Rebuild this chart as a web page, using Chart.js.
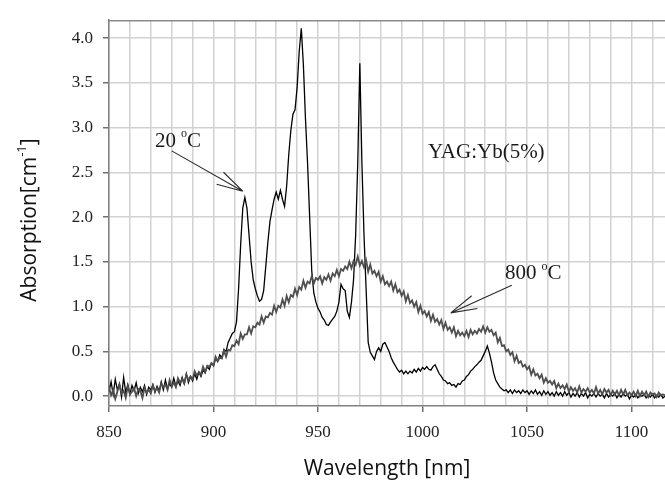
<!DOCTYPE html>
<html>
<head>
<meta charset="utf-8">
<title>YAG:Yb absorption</title>
<script src="https://cdn.jsdelivr.net/npm/chart.js@4.4.1/dist/chart.umd.min.js"></script>
<style>
  html, body { margin: 0; padding: 0; background: #fff; }
  #wrap { width: 665px; height: 480px; }
</style>
</head>
<body>
<div id="wrap"><canvas id="absChart" width="665" height="480"></canvas></div>
<script>
// spectra sampled every 1 nm starting at 850 nm
const waveStart = 850;
const waveStep = 1;

// absorption at 20 °C (black)
const abs20C = [
  0.05, 0.16, 0.02, 0.19, 0.07, 0.14, -0.01, 0.21, 0.04, 0.13,
  0.02, 0.12, 0.06, 0.15, 0.03, 0.10, 0.05, 0.12, 0.02, 0.10,
  0.07, 0.13, 0.04, 0.11, 0.06, 0.16, 0.07, 0.18, 0.08, 0.14,
  0.10, 0.20, 0.11, 0.17, 0.12, 0.21, 0.14, 0.25, 0.15, 0.22,
  0.17, 0.25, 0.19, 0.27, 0.22, 0.29, 0.26, 0.33, 0.30, 0.37,
  0.34, 0.42, 0.39, 0.46, 0.43, 0.52, 0.50, 0.60, 0.65, 0.70,
  0.72, 0.83, 1.20, 1.70, 2.10, 2.22, 2.10, 1.80, 1.50, 1.30,
  1.20, 1.12, 1.06, 1.08, 1.18, 1.45, 1.72, 1.95, 2.08, 2.20,
  2.28, 2.20, 2.30, 2.20, 2.12, 2.35, 2.70, 2.97, 3.15, 3.20,
  3.45, 3.85, 4.11, 3.70, 3.10, 2.60, 2.00, 1.40, 1.15, 1.05,
  0.98, 0.94, 0.88, 0.85, 0.80, 0.79, 0.83, 0.86, 0.89, 0.95,
  1.05, 1.25, 1.20, 1.18, 0.95, 0.88, 1.05, 1.30, 1.80, 2.60,
  3.72, 2.60, 1.80, 1.20, 0.60, 0.49, 0.45, 0.41, 0.50, 0.54,
  0.50, 0.58, 0.60, 0.55, 0.50, 0.43, 0.38, 0.34, 0.30, 0.27,
  0.29, 0.25, 0.28, 0.25, 0.28, 0.26, 0.30, 0.27, 0.31, 0.28,
  0.32, 0.30, 0.33, 0.30, 0.29, 0.33, 0.35, 0.30, 0.25, 0.22,
  0.18, 0.17, 0.14, 0.15, 0.12, 0.13, 0.10, 0.14, 0.13, 0.17,
  0.18, 0.22, 0.24, 0.28, 0.30, 0.33, 0.35, 0.38, 0.40, 0.45,
  0.50, 0.56, 0.48, 0.38, 0.26, 0.18, 0.14, 0.10, 0.08, 0.06,
  0.07, 0.04, 0.07, 0.03, 0.07, 0.04, 0.06, 0.03, 0.07, 0.04,
  0.06, 0.02, 0.06, 0.03, 0.07, 0.02, 0.05, 0.01, 0.06, 0.02,
  0.05, 0.01, 0.04, 0.00, 0.05, 0.01, 0.04, 0.00, 0.05, 0.01,
  0.04, -0.01, 0.03, 0.00, 0.04, -0.01, 0.03, 0.00, 0.04, -0.02,
  0.02, 0.00, 0.03, -0.01, 0.03, 0.00, 0.02, -0.02, 0.03, -0.01,
  0.02, 0.00, 0.03, -0.02, 0.02, -0.01, 0.03, 0.00, 0.02, -0.03,
  0.01, -0.01, 0.02, -0.02, 0.01, 0.00, 0.02, -0.02, 0.01, -0.01,
  0.02, -0.02, 0.01, -0.01, 0.02, -0.02, 0.00
];

// absorption at 800 °C (grey)
const abs800C = [
  0.10, 0.01, 0.07, -0.03, 0.05, 0.13, 0.03, 0.06, -0.02, 0.11,
  0.02, 0.05, 0.09, 0.00, 0.08, 0.06, -0.02, 0.09, 0.04, 0.07,
  0.03, 0.12, 0.06, 0.09, 0.04, 0.14, 0.10, 0.13, 0.07, 0.18,
  0.11, 0.15, 0.10, 0.20, 0.15, 0.19, 0.14, 0.24, 0.18, 0.22,
  0.19, 0.28, 0.23, 0.27, 0.24, 0.33, 0.27, 0.34, 0.33, 0.37,
  0.34, 0.44, 0.39, 0.43, 0.42, 0.51, 0.44, 0.52, 0.51, 0.57,
  0.56, 0.62, 0.58, 0.70, 0.64, 0.69, 0.69, 0.77, 0.70, 0.78,
  0.77, 0.82, 0.80, 0.89, 0.82, 0.89, 0.88, 0.93, 0.91, 1.01,
  0.94, 1.01, 0.99, 1.08, 1.01, 1.12, 1.05, 1.13, 1.11, 1.20,
  1.13, 1.22, 1.19, 1.29, 1.21, 1.28, 1.26, 1.34, 1.26, 1.32,
  1.30, 1.34, 1.26, 1.33, 1.30, 1.36, 1.29, 1.37, 1.34, 1.41,
  1.34, 1.42, 1.40, 1.45, 1.42, 1.50, 1.43, 1.51, 1.47, 1.56,
  1.46, 1.51, 1.44, 1.52, 1.39, 1.47, 1.37, 1.40, 1.34, 1.39,
  1.28, 1.34, 1.25, 1.28, 1.23, 1.28, 1.18, 1.25, 1.16, 1.19,
  1.12, 1.17, 1.06, 1.13, 1.04, 1.07, 1.00, 1.05, 0.94, 1.01,
  0.92, 0.95, 0.89, 0.94, 0.84, 0.91, 0.83, 0.86, 0.80, 0.85,
  0.75, 0.82, 0.74, 0.77, 0.71, 0.77, 0.67, 0.73, 0.68, 0.71,
  0.67, 0.73, 0.66, 0.74, 0.69, 0.73, 0.70, 0.75, 0.72, 0.78,
  0.71, 0.77, 0.72, 0.74, 0.68, 0.71, 0.60, 0.65, 0.56, 0.57,
  0.50, 0.52, 0.46, 0.49, 0.39, 0.45, 0.37, 0.39, 0.33, 0.35,
  0.30, 0.33, 0.24, 0.30, 0.23, 0.25, 0.20, 0.24, 0.15, 0.20,
  0.15, 0.17, 0.13, 0.17, 0.09, 0.14, 0.09, 0.12, 0.08, 0.13,
  0.05, 0.10, 0.06, 0.09, 0.04, 0.11, 0.04, 0.08, 0.05, 0.09,
  0.04, 0.07, 0.03, 0.10, 0.03, 0.07, 0.02, 0.08, 0.04, 0.07,
  0.01, 0.06, 0.02, 0.06, 0.01, 0.07, 0.02, 0.07, 0.01, 0.04,
  0.01, 0.05, 0.00, 0.06, 0.00, 0.05, 0.01, 0.05, -0.01, 0.04,
  0.02, 0.03, -0.01, 0.04, 0.01, 0.02, 0.01
];

const xMin = 850, xMax = 1116;
const yMin = -0.11, yMax = 4.2;
const xLabelStep = 50;

// annotations in data units
const notes = [
  { text: '20', unit: 'C', at: [872, 2.85], from: [880, 2.74], to: [914, 2.29] },
  { text: '800', unit: 'C', at: [1039.5, 1.37], from: [1042.7, 1.24], to: [1013.5, 0.93] },
  { text: 'YAG:Yb(5%)', at: [1002.6, 2.72] }
];

function points(values) {
  return values.map((v, i) => ({ x: waveStart + i * waveStep, y: v }));
}

const SERIF = '"Liberation Serif", "Times New Roman", serif';
const SANS = '"Open Sans", "Noto Sans", sans-serif';

// arrows, labels, frame and axis titles
const decorations = {
  id: 'decorations',
  afterDatasetsDraw(chart) {
    const { ctx, chartArea: a, scales: { x, y } } = chart;
    ctx.save();

    // top border of plot
    ctx.strokeStyle = '#8a8a8a';
    ctx.lineWidth = 1.5;
    ctx.beginPath();
    ctx.moveTo(a.left, a.top + 0.5);
    ctx.lineTo(a.right, a.top + 0.5);
    ctx.stroke();

    ctx.fillStyle = '#1a1a1a';
    ctx.strokeStyle = '#2a2a2a';
    ctx.textBaseline = 'middle';
    ctx.textAlign = 'left';
    notes.forEach(n => {
      const px = x.getPixelForValue(n.at[0]);
      const py = y.getPixelForValue(n.at[1]);
      ctx.font = '21px ' + SERIF;
      ctx.fillText(n.text, px, py);
      if (n.unit) {
        let cx = px + ctx.measureText(n.text).width + 5;
        ctx.font = '12px ' + SERIF;
        ctx.fillText('o', cx, py - 7);
        cx += ctx.measureText('o').width;
        ctx.font = '21px ' + SERIF;
        ctx.fillText(n.unit, cx, py);
      }
      if (n.from) {
        const x0 = x.getPixelForValue(n.from[0]), y0 = y.getPixelForValue(n.from[1]);
        const x1 = x.getPixelForValue(n.to[0]), y1 = y.getPixelForValue(n.to[1]);
        const ang = Math.atan2(y0 - y1, x0 - x1);
        const len = 27, spread = 0.26;
        ctx.lineWidth = 1.1;
        ctx.beginPath();
        ctx.moveTo(x0, y0);
        ctx.lineTo(x1, y1);
        ctx.moveTo(x1, y1);
        ctx.lineTo(x1 + len * Math.cos(ang + spread), y1 + len * Math.sin(ang + spread));
        ctx.moveTo(x1, y1);
        ctx.lineTo(x1 + len * Math.cos(ang - spread), y1 + len * Math.sin(ang - spread));
        ctx.stroke();
      }
    });

    // axis titles
    ctx.fillStyle = '#111';
    ctx.textBaseline = 'alphabetic';
    ctx.textAlign = 'center';
    ctx.font = '21px ' + SANS;
    ctx.fillText('Wavelength [nm]', (a.left + a.right) / 2, 475);

    ctx.translate(36, 220);
    ctx.rotate(-Math.PI / 2);
    ctx.textAlign = 'left';
    const main = 'Absorption[cm', sup = '-1', end = ']';
    ctx.font = '21px ' + SANS;
    const w1 = ctx.measureText(main).width, w3 = ctx.measureText(end).width;
    ctx.font = '13px ' + SANS;
    const w2 = ctx.measureText(sup).width;
    let sx = -(w1 + w2 + w3) / 2;
    ctx.font = '21px ' + SANS;
    ctx.fillText(main, sx, 0);
    ctx.font = '13px ' + SANS;
    ctx.fillText(sup, sx + w1, -10);
    ctx.font = '21px ' + SANS;
    ctx.fillText(end, sx + w1 + w2, 0);

    ctx.restore();
  }
};

const ctx = document.getElementById('absChart').getContext('2d');
new Chart(ctx, {
  type: 'line',
  data: {
    datasets: [
      {
        label: '800 °C',
        data: points(abs800C),
        borderColor: '#4f4f4f',
        borderWidth: 1.8,
        pointRadius: 0,
        tension: 0,
        order: 0
      },
      {
        label: '20 °C',
        data: points(abs20C),
        borderColor: '#000000',
        borderWidth: 1.3,
        pointRadius: 0,
        tension: 0,
        order: 1
      }
    ]
  },
  options: {
    responsive: false,
    animation: false,
    layout: { padding: { top: 9, right: 0, left: 0, bottom: 0 } },
    plugins: {
      legend: { display: false },
      tooltip: { enabled: false }
    },
    scales: {
      x: {
        type: 'linear',
        min: xMin,
        max: xMax,
        afterFit: s => { s.height = 74; },
        border: { color: '#808080', width: 1.5 },
        grid: {
          color: '#d2d2d2',
          lineWidth: 1.5,
          tickLength: 6,
          tickColor: c => (c.tick && c.tick.value % xLabelStep === 0) ? '#707070' : 'rgba(0,0,0,0)'
        },
        ticks: {
          stepSize: 10,
          includeBounds: false,
          autoSkip: false,
          maxRotation: 0,
          padding: 10,
          color: '#222',
          font: { family: SERIF, size: 17 },
          callback: v => (v % xLabelStep === 0 ? String(v) : '')
        }
      },
      y: {
        min: yMin,
        max: yMax,
        afterFit: s => { s.width = 109; },
        border: { color: '#808080', width: 1.5 },
        grid: {
          color: '#d2d2d2',
          lineWidth: 1.5,
          tickLength: 6,
          tickColor: '#707070'
        },
        ticks: {
          stepSize: 0.5,
          includeBounds: false,
          padding: 10,
          color: '#222',
          font: { family: SERIF, size: 17 },
          callback: v => Number(v).toFixed(1)
        }
      }
    }
  },
  plugins: [decorations]
});
</script>
</body>
</html>
